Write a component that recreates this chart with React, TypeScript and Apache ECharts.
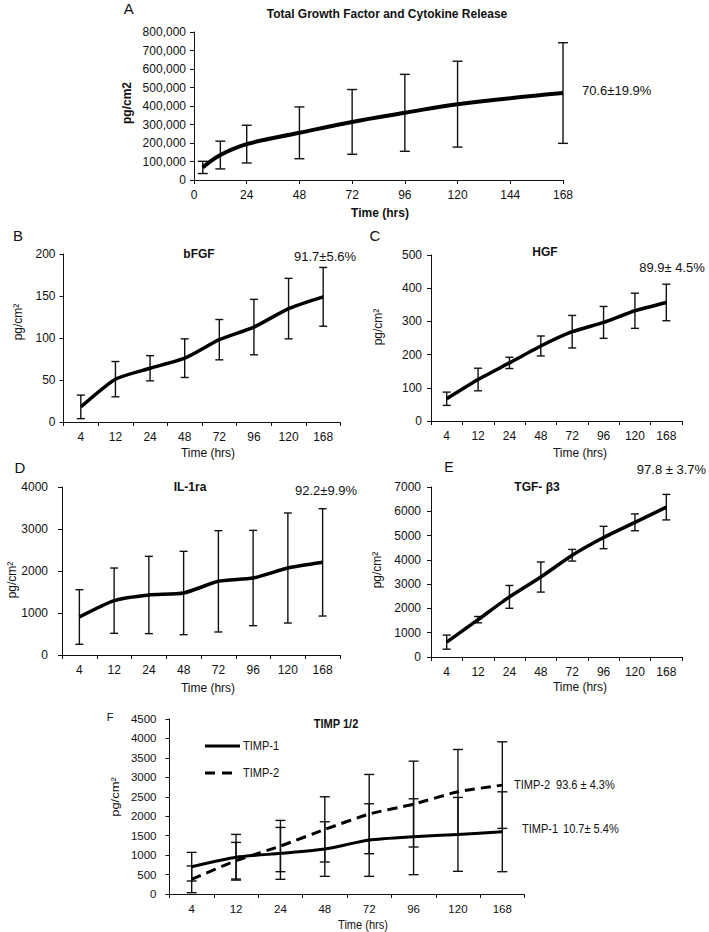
import React, { useEffect, useRef } from 'react';
import * as echarts from 'echarts';

const categories = ['4', '12', '24', '48', '72', '96', '120', '168'];
const hoursA = [4, 12, 24, 48, 72, 96, 120, 168];
const totalMean = [68000, 135000, 194000, 255000, 314000, 363000, 410000, 470000];
const totalSd = [33000, 75000, 102000, 140000, 175000, 208000, 232000, 272000];
const bfgfMean = [18, 51, 64, 76, 98, 113, 135, 149];
const bfgfSd = [14, 21, 15, 23, 24, 33, 36, 35];
const hgfMean = [67, 125, 175, 226, 269, 297, 332, 357];
const hgfSd = [20, 34, 17, 30, 49, 48, 53, 55];
const il1raMean = [905, 1294, 1429, 1476, 1754, 1833, 2071, 2206];
const il1raSd = [650, 777, 920, 992, 1206, 1135, 1310, 1278];
const tgfMean = [612, 1537, 2476, 3293, 4190, 4920, 5546, 6170];
const tgfSd = [290, 130, 470, 620, 240, 460, 346, 525];
const timp1Mean = [702, 945, 1045, 1156, 1387, 1473, 1533, 1601];
const timp1Sd = [368, 588, 667, 702, 933, 976, 950, 1027];
const timp2Mean = [377, 856, 1233, 1661, 2055, 2312, 2628, 2800];
const timp2Sd = [343, 471, 659, 839, 1019, 1104, 1088, 1113];

const SANS = "'Liberation Sans', Arial, Helvetica, sans-serif";
const NARROW_SCALE = 0.85;

const errRender = (cap: number) => (params: any, api: any) => {
  const x = api.value(0);
  const lo = api.coord([x, api.value(1)]);
  const hi = api.coord([x, api.value(2)]);
  const style = { stroke: '#111', lineWidth: 1.4 };
  return {
    type: 'group',
    children: [
      { type: 'line', shape: { x1: lo[0], y1: lo[1], x2: hi[0], y2: hi[1] }, style },
      { type: 'line', shape: { x1: lo[0] - cap, y1: lo[1], x2: lo[0] + cap, y2: lo[1] }, style },
      { type: 'line', shape: { x1: hi[0] - cap, y1: hi[1], x2: hi[0] + cap, y2: hi[1] }, style },
    ],
  };
};

const catErr = (means: number[], sds: number[]) => means.map((m, i) => [i, m - sds[i], m + sds[i]]);

const axisLineStyle = { lineStyle: { color: '#111', width: 1 } };
const plain = (v: number) => String(v);

function catX(gridIndex: number, size: number, margin: number) {
  return {
    gridIndex,
    type: 'category',
    data: categories,
    boundaryGap: true,
    axisLine: axisLineStyle,
    axisTick: { show: true, inside: false, length: 4, alignWithLabel: false, interval: 0, lineStyle: { color: '#111' } },
    axisLabel: { fontFamily: SANS, fontSize: size, color: '#111', margin, interval: 0 },
    splitLine: { show: false },
  };
}

function valY(gridIndex: number, max: number, interval: number, size: number, margin: number, fmt: (v: number) => string) {
  return {
    gridIndex,
    type: 'value',
    min: 0,
    max,
    interval,
    axisLine: { show: true, ...axisLineStyle },
    axisTick: { show: true, length: 4, lineStyle: { color: '#111' } },
    axisLabel: { fontFamily: SANS, fontSize: size, color: '#111', margin, formatter: fmt },
    splitLine: { show: false },
  };
}

function txt(x: number, y: number, text: string, opts: any = {}) {
  const narrow = !!opts.narrow;
  return {
    type: 'text',
    x,
    y,
    rotation: opts.rotate || 0,
    scaleX: narrow && !opts.rotate ? NARROW_SCALE : 1,
    scaleY: narrow && opts.rotate ? NARROW_SCALE : 1,
    silent: true,
    style: {
      text,
      fontFamily: SANS,
      fontSize: opts.size || 12,
      fontWeight: opts.weight || 'normal',
      fill: '#111',
      align: opts.align || 'center',
      verticalAlign: 'middle',
    },
  };
}

const option: any = {
  animation: false,
  backgroundColor: '#ffffff',
  grid: [
    { left: 194, top: 32, width: 369, height: 148 },
    { left: 63.5, top: 254, width: 277, height: 168 },
    { left: 431, top: 255, width: 251, height: 166 },
    { left: 62, top: 487, width: 278, height: 168 },
    { left: 431, top: 487, width: 251, height: 170 },
    { left: 169.5, top: 719, width: 355, height: 175 },
  ],
  xAxis: [
    {
      gridIndex: 0,
      type: 'value',
      min: 0,
      max: 168,
      interval: 24,
      axisLine: axisLineStyle,
      axisTick: { show: true, length: 4, lineStyle: { color: '#111' } },
      axisLabel: { fontFamily: SANS, fontSize: 12, color: '#111', margin: 9 },
      splitLine: { show: false },
    },
    catX(1, 12, 9),
    catX(2, 12, 9),
    catX(3, 12, 9),
    catX(4, 12, 9),
    catX(5, 11.5, 9),
  ],
  yAxis: [
    valY(0, 800000, 100000, 12, 8, (v: number) => v.toLocaleString('en-US')),
    valY(1, 200, 50, 12, 8, plain),
    valY(2, 500, 100, 12, 9, plain),
    valY(3, 4000, 1000, 12, 14, plain),
    valY(4, 7000, 1000, 12, 10, plain),
    valY(5, 4500, 500, 11.5, 13, plain),
  ],
  series: [
    {
      type: 'line', xAxisIndex: 0, yAxisIndex: 0, symbol: 'none', smooth: 0.4,
      data: hoursA.map((h, i) => [h, totalMean[i]]),
      lineStyle: { color: '#000', width: 4 },
    },
    {
      type: 'custom', xAxisIndex: 0, yAxisIndex: 0, renderItem: errRender(5),
      encode: { x: 0, y: [1, 2] },
      data: hoursA.map((h, i) => [h, totalMean[i] - totalSd[i], totalMean[i] + totalSd[i]]),
    },
    { type: 'line', xAxisIndex: 1, yAxisIndex: 1, symbol: 'none', smooth: 0.2, data: bfgfMean, lineStyle: { color: '#000', width: 3.5 } },
    { type: 'custom', xAxisIndex: 1, yAxisIndex: 1, renderItem: errRender(4), encode: { x: 0, y: [1, 2] }, data: catErr(bfgfMean, bfgfSd) },
    { type: 'line', xAxisIndex: 2, yAxisIndex: 2, symbol: 'none', smooth: 0.2, data: hgfMean, lineStyle: { color: '#000', width: 3.5 } },
    { type: 'custom', xAxisIndex: 2, yAxisIndex: 2, renderItem: errRender(4), encode: { x: 0, y: [1, 2] }, data: catErr(hgfMean, hgfSd) },
    { type: 'line', xAxisIndex: 3, yAxisIndex: 3, symbol: 'none', smooth: 0.2, data: il1raMean, lineStyle: { color: '#000', width: 3.5 } },
    { type: 'custom', xAxisIndex: 3, yAxisIndex: 3, renderItem: errRender(4), encode: { x: 0, y: [1, 2] }, data: catErr(il1raMean, il1raSd) },
    { type: 'line', xAxisIndex: 4, yAxisIndex: 4, symbol: 'none', smooth: 0.2, data: tgfMean, lineStyle: { color: '#000', width: 3.5 } },
    { type: 'custom', xAxisIndex: 4, yAxisIndex: 4, renderItem: errRender(4), encode: { x: 0, y: [1, 2] }, data: catErr(tgfMean, tgfSd) },
    { type: 'line', name: 'TIMP-1', xAxisIndex: 5, yAxisIndex: 5, symbol: 'none', smooth: 0.2, data: timp1Mean, lineStyle: { color: '#000', width: 3 } },
    { type: 'line', name: 'TIMP-2', xAxisIndex: 5, yAxisIndex: 5, symbol: 'none', smooth: 0.2, data: timp2Mean, lineStyle: { color: '#000', width: 3, type: [10, 6] } },
    { type: 'custom', xAxisIndex: 5, yAxisIndex: 5, renderItem: errRender(5), encode: { x: 0, y: [1, 2] }, data: catErr(timp1Mean, timp1Sd) },
    { type: 'custom', xAxisIndex: 5, yAxisIndex: 5, renderItem: errRender(5), encode: { x: 0, y: [1, 2] }, data: catErr(timp2Mean, timp2Sd) },
  ],
  graphic: [
    // panel letters
    txt(128.7, 8, 'A', { size: 15 }),
    txt(18, 235, 'B', { size: 15 }),
    txt(375, 235, 'C', { size: 15 }),
    txt(20, 467, 'D', { size: 15 }),
    txt(449, 467, 'E', { size: 14 }),
    txt(110, 717, 'F', { size: 11 }),
    // titles
    txt(387, 14, 'Total Growth Factor and Cytokine Release', { weight: 'bold', size: 12 }),
    txt(199, 254, 'bFGF', { weight: 'bold' }),
    txt(545, 252, 'HGF', { weight: 'bold' }),
    txt(190, 487, 'IL-1ra', { weight: 'bold' }),
    txt(537, 487, 'TGF- β3', { weight: 'bold' }),
    txt(336, 724, 'TIMP 1/2', { weight: 'bold', narrow: true, size: 13 }),
    // percentages
    txt(582, 90, '70.6±19.9%', { align: 'left', size: 13 }),
    txt(325, 256, '91.7±5.6%', { size: 13 }),
    txt(672, 267, '89.9± 4.5%', { size: 13 }),
    txt(326, 490, '92.2±9.9%', { size: 13 }),
    txt(671.5, 469, '97.8 ± 3.7%', { size: 13 }),
    txt(514, 785, 'TIMP-2', { align: 'left', narrow: true, size: 13 }),
    txt(556, 785, '93.6 ± 4.3%', { align: 'left', narrow: true, size: 13 }),
    txt(522, 829, 'TIMP-1', { align: 'left', narrow: true, size: 13 }),
    txt(563, 829, '10.7± 5.4%', { align: 'left', narrow: true, size: 13 }),
    // legend F
    { type: 'line', silent: true, shape: { x1: 205, y1: 746, x2: 240, y2: 746 }, style: { stroke: '#000', lineWidth: 3 } },
    txt(243, 746, 'TIMP-1', { align: 'left', narrow: true, size: 13 }),
    { type: 'line', silent: true, shape: { x1: 205, y1: 773, x2: 235, y2: 773 }, style: { stroke: '#000', lineWidth: 3, lineDash: [10, 7] } },
    txt(243, 773, 'TIMP-2', { align: 'left', narrow: true, size: 13 }),
    // y axis names
    txt(127.3, 103, 'pg/cm2', { weight: 'bold', rotate: Math.PI / 2 }),
    txt(18, 322, 'pg/cm²', { rotate: Math.PI / 2 }),
    txt(377.5, 327, 'pg/cm²', { rotate: Math.PI / 2 }),
    txt(12, 580, 'pg/cm²', { rotate: Math.PI / 2 }),
    txt(377, 570, 'pg/cm²', { rotate: Math.PI / 2 }),
    txt(115, 797, 'pg/cm²', { rotate: Math.PI / 2, narrow: true, size: 13 }),
    // x axis names
    txt(380, 213, 'Time (hrs)', { weight: 'bold' }),
    txt(208, 453, 'Time (hrs)'),
    txt(580, 453, 'Time (hrs)'),
    txt(208, 688, 'Time (hrs)'),
    txt(580, 687, 'Time (hrs)'),
    txt(363, 925, 'Time (hrs)', { narrow: true, size: 13 }),
  ],
};

export default function App() {
  const ref = useRef<HTMLDivElement>(null);
  useEffect(() => {
    document.body.style.margin = '0';
    const chart = echarts.init(ref.current!, null, { renderer: 'svg' });
    chart.setOption(option);
    return () => chart.dispose();
  }, []);
  return (
    <div
      ref={ref}
      style={{ position: 'absolute', left: 0, top: 0, width: 709, height: 932, background: '#fff' }}
    />
  );
}
